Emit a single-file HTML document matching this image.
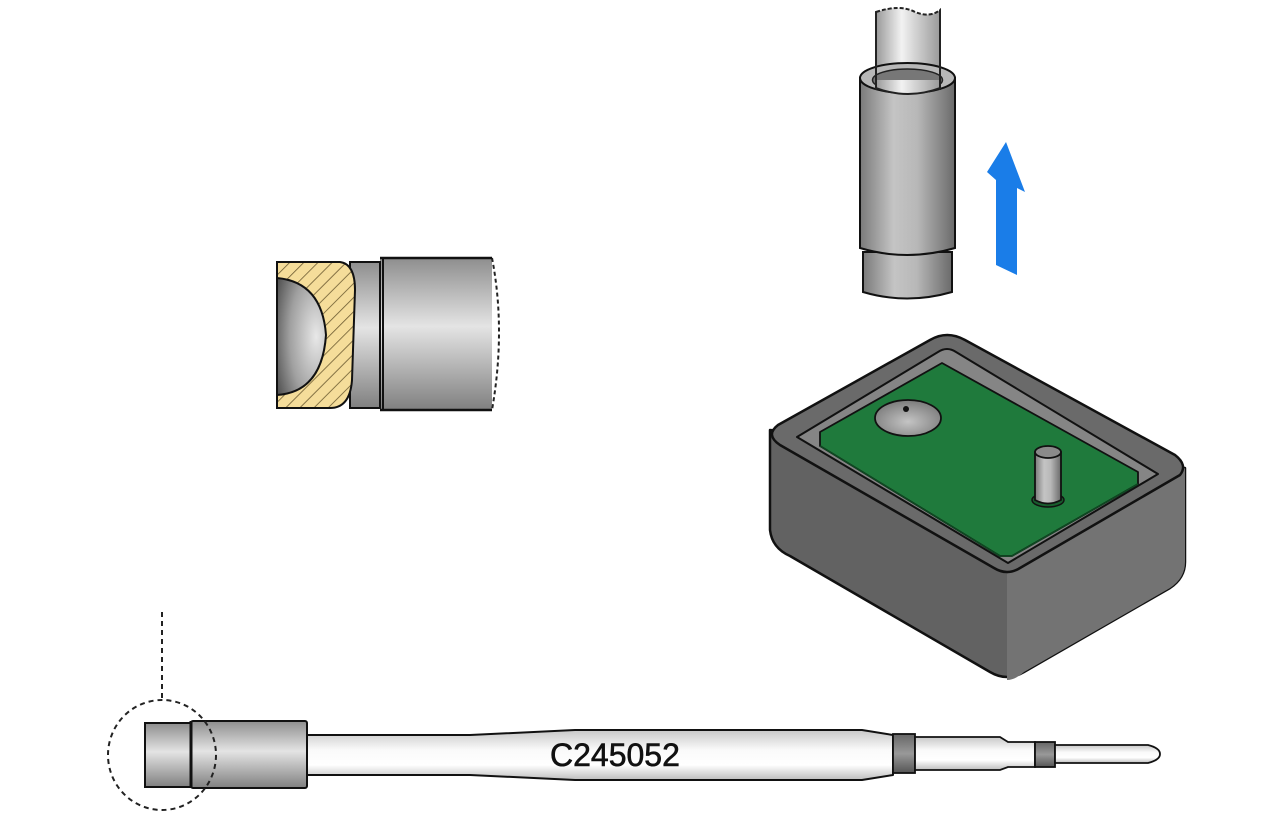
<!DOCTYPE html>
<html><head><meta charset="utf-8"><style>html,body{margin:0;padding:0;background:#fff}svg{display:block}</style></head>
<body>
<svg width="1280" height="819" viewBox="0 0 1280 819" xmlns="http://www.w3.org/2000/svg">
<defs>
<linearGradient id="cylH" x1="0" x2="1" y1="0" y2="0">
<stop offset="0" stop-color="#7a7a7a"/><stop offset="0.35" stop-color="#c4c4c4"/><stop offset="0.6" stop-color="#b8b8b8"/><stop offset="1" stop-color="#6a6a6a"/></linearGradient>
<linearGradient id="tubeH" x1="0" x2="1" y1="0" y2="0">
<stop offset="0" stop-color="#999"/><stop offset="0.4" stop-color="#f2f2f2"/><stop offset="1" stop-color="#9a9a9a"/></linearGradient>
<linearGradient id="cylV" x1="0" x2="0" y1="0" y2="1">
<stop offset="0" stop-color="#8e8e8e"/><stop offset="0.45" stop-color="#e4e4e4"/><stop offset="1" stop-color="#808080"/></linearGradient>
<linearGradient id="shaftV" x1="0" x2="0" y1="0" y2="1">
<stop offset="0" stop-color="#c8c8c8"/><stop offset="0.4" stop-color="#fafafa"/><stop offset="0.7" stop-color="#ffffff"/><stop offset="1" stop-color="#bdbdbd"/></linearGradient>
<linearGradient id="bandV" x1="0" x2="0" y1="0" y2="1">
<stop offset="0" stop-color="#666"/><stop offset="0.5" stop-color="#999"/><stop offset="1" stop-color="#555"/></linearGradient>
<radialGradient id="ball" cx="0.8" cy="0.5" r="0.9">
<stop offset="0" stop-color="#e8e8e8"/><stop offset="0.6" stop-color="#a0a0a0"/><stop offset="1" stop-color="#555"/></radialGradient>
<radialGradient id="dome" cx="0.5" cy="0.6" r="0.6">
<stop offset="0" stop-color="#c4c4c4"/><stop offset="1" stop-color="#7b7b7b"/></radialGradient>
<pattern id="hatch" width="10" height="10" patternUnits="userSpaceOnUse" patternTransform="rotate(-45)">
<rect width="10" height="10" fill="#f5dd9a"/><line x1="0" y1="0" x2="10" y2="0" stroke="#6b5a30" stroke-width="1.6"/></pattern>
</defs>

<!-- Top cylinder -->
<path d="M876 12 Q900 4 915 12 Q930 18 940 10 L940 88 L876 88 Z" fill="url(#tubeH)" stroke="#222" stroke-width="2" stroke-dasharray="4 2"/>
<line x1="876" y1="14" x2="876" y2="88" stroke="#222" stroke-width="2"/>
<line x1="940" y1="10" x2="940" y2="88" stroke="#222" stroke-width="2"/>
<path d="M863 252 L863 292 Q907 305 952 292 L952 252 Z" fill="url(#cylH)" stroke="#111" stroke-width="2"/>
<path d="M860 78 L860 248 Q907 262 955 248 L955 78 Z" fill="url(#cylH)" stroke="#111" stroke-width="2"/>
<ellipse cx="907.5" cy="78" rx="47.5" ry="15" fill="#b8b8b8" stroke="#111" stroke-width="2"/>
<ellipse cx="907.5" cy="80" rx="35" ry="11" fill="#777" stroke="#222" stroke-width="1.5"/>
<path d="M876 80 L876 88 Q908 100 940 88 L940 80 Z" fill="url(#tubeH)"/>
<path d="M876 88 Q908 100 940 88" fill="none" stroke="#222" stroke-width="2"/>
<line x1="876" y1="60" x2="876" y2="90" stroke="#222" stroke-width="2"/>
<line x1="940" y1="60" x2="940" y2="90" stroke="#222" stroke-width="2"/>

<!-- Blue arrow -->
<polygon points="1006,142 1025,192 1017,188 1017,275 996,265 996,180 987,172" fill="#1a7de8"/>

<!-- Left sectioned part -->
<rect x="380" y="258" width="112" height="152" fill="url(#cylV)"/>
<path d="M492 258 Q506 330 492 410" fill="none" stroke="#222" stroke-width="2" stroke-dasharray="4 3"/>
<line x1="380" y1="258" x2="492" y2="258" stroke="#111" stroke-width="2.5"/>
<line x1="380" y1="410" x2="492" y2="410" stroke="#111" stroke-width="2.5"/>
<rect x="350" y="262" width="30" height="146" fill="url(#cylV)" stroke="#111" stroke-width="2"/>
<line x1="383" y1="258" x2="383" y2="410" stroke="#111" stroke-width="2"/>
<path d="M277 262 L340 262 Q355 264 355 290 L352 380 Q350 408 330 408 L277 408 Z" fill="url(#hatch)" stroke="#111" stroke-width="2"/>
<path d="M277 278 Q322 282 326 335 Q322 392 277 395 Z" fill="url(#ball)" stroke="#111" stroke-width="2"/>

<!-- Box -->
<path d="M770 430 L770 530 Q772 548 790 556 L990 672 Q1007 682 1024 672 L1170 588 Q1185 578 1185 562 L1185 468 Z" fill="#626262" stroke="#111" stroke-width="2.5" stroke-linejoin="round"/>
<path d="M1007 574 L1007 680 Q1015 680 1024 672 L1170 588 Q1185 578 1185 562 L1185 468 Z" fill="#737373"/>
<path d="M930 340 Q947 330 965 340 L1175 455 Q1188 465 1180 475 L1020 568 Q1007 576 994 568 L780 445 Q765 435 778 425 Z" fill="#6a6a6a" stroke="#111" stroke-width="2.5" stroke-linejoin="round"/>
<path d="M938 352 Q947 346 956 352 L1158 474 L1008 563 L797 437 Z" fill="#858585" stroke="#111" stroke-width="2" stroke-linejoin="round"/>
<path d="M942 363 L1138 472 L1138 484 L1012 556 L1000 556 L820 446 L820 432 Z" fill="#1f7a3c" stroke="#111" stroke-width="1.8" stroke-linejoin="round"/>
<path d="M820 446 L1000 556 L1012 556 L1138 484" fill="none" stroke="#0e4a22" stroke-width="1.5"/>
<ellipse cx="908" cy="418" rx="33" ry="18" fill="url(#dome)" stroke="#111" stroke-width="1.8"/>
<ellipse cx="906" cy="409" rx="3" ry="3" fill="#111"/>
<ellipse cx="1048" cy="500" rx="16" ry="7" fill="#185e2d" stroke="#111" stroke-width="1.5"/>
<path d="M1035 452 L1035 500 Q1048 507 1061 500 L1061 452 Z" fill="url(#cylH)" stroke="#111" stroke-width="1.8"/>
<ellipse cx="1048" cy="452" rx="13" ry="6" fill="#8a8a8a" stroke="#111" stroke-width="1.8"/>

<!-- Bottom tool -->
<line x1="162" y1="612" x2="162" y2="699" stroke="#222" stroke-width="2" stroke-dasharray="5 4"/>
<path d="M307 735 L470 735 L575 730 L862 730 L893 735 L893 775 L862 780 L575 780 L470 775 L307 775 Z" fill="url(#shaftV)" stroke="#111" stroke-width="2" stroke-linejoin="round"/>
<rect x="893" y="734" width="22" height="39" fill="url(#bandV)" stroke="#111" stroke-width="1.8"/>
<path d="M915 737 L1000 737 L1008 742 L1035 742 L1035 767 L1008 767 L1000 770 L915 770 Z" fill="url(#shaftV)" stroke="#111" stroke-width="1.8"/>
<rect x="1035" y="742" width="20" height="25" fill="url(#bandV)" stroke="#111" stroke-width="1.8"/>
<path d="M1055 745 L1148 745 Q1160 748 1160 754 Q1160 760 1148 763 L1055 763 Z" fill="url(#shaftV)" stroke="#111" stroke-width="1.8"/>
<rect x="145" y="723" width="46" height="64" fill="url(#cylV)" stroke="#111" stroke-width="2"/>
<rect x="191" y="721" width="116" height="67" rx="2" fill="url(#cylV)" stroke="#111" stroke-width="2"/>
<line x1="191" y1="721" x2="191" y2="788" stroke="#111" stroke-width="3"/>
<ellipse cx="162" cy="755" rx="54" ry="55" fill="none" stroke="#222" stroke-width="2" stroke-dasharray="5 4"/>
<text x="550" y="766" font-family="Liberation Sans, Arial, sans-serif" font-size="32" fill="#111" stroke="#111" stroke-width="0.6">C245052</text>
</svg>
</body></html>
